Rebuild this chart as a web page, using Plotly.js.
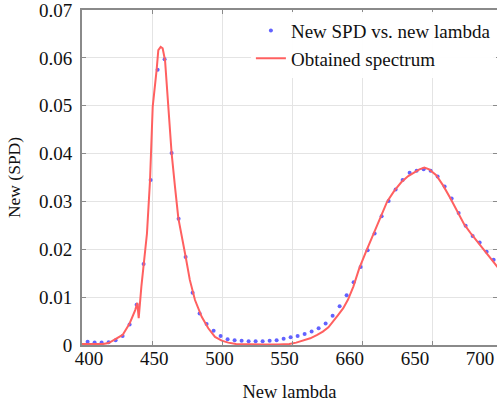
<!DOCTYPE html>
<html>
<head>
<meta charset="utf-8">
<script src="https://cdn.plot.ly/plotly-3.0.1.min.js"></script>
<style>html,body{margin:0;padding:0;background:#fff;}#chart{width:497px;height:402px;}</style>
</head>
<body>
<div id="chart"></div>
<script>
// Measured SPD samples (blue dots)
const dotLambda = [404,409,414,419,424,429,434,439,444,449,454,459,464,469,474,479,484,489,494,499,504,509,514,519,524,529,534,539,544,549,554,559,564,569,574,579,584,589,594,599,604,609,614,619,624,629,634,639,644,649,654,659,664,669,674,679,684,689,694,699];
const dotSPD = [0.0007,0.0005,0.0005,0.0006,0.0010,0.0019,0.0043,0.0084,0.0169,0.0345,0.0575,0.0597,0.0401,0.0264,0.0184,0.0109,0.0066,0.0044,0.0030,0.0019,0.0012,0.0010,0.0009,0.0008,0.0008,0.0008,0.0009,0.0010,0.0013,0.0016,0.0019,0.0023,0.0028,0.0035,0.0045,0.0061,0.0081,0.0104,0.0131,0.0163,0.0198,0.0233,0.0269,0.0301,0.0325,0.0345,0.0360,0.0364,0.0367,0.0364,0.0352,0.0331,0.0306,0.0276,0.0249,0.0228,0.0214,0.0195,0.0178,0.0162];

// Obtained spectrum (red line)
const specLambda = [400,405,410,415,419,424,429,434,438,439.5,440.5,442.4,444,446.4,448.6,449.8,450.5,453.3,454.5,456.2,457.6,459.3,461.7,464,466.4,468.8,474,477,480.7,485.5,490.2,495,499.8,504.5,510,520,530,540,548,553,558,563,568,572,576,579.5,583,586.6,590,593.8,598,603,608,613,618,623,628,633,638,641,644.5,648,653,658,663,668,673,678,683,688,693,697];
const specSPD = [0.0002,0.0002,0.0002,0.0002,0.0004,0.0012,0.0021,0.0045,0.0073,0.0088,0.0056,0.0122,0.0169,0.0233,0.0345,0.0432,0.0498,0.0575,0.0616,0.0623,0.0620,0.0595,0.0498,0.0401,0.0331,0.0265,0.0185,0.0136,0.0094,0.0059,0.0035,0.0017,0.0009,0.0005,0.0002,0.0001,0.0001,0.0001,0.0002,0.0005,0.0009,0.0014,0.0021,0.0028,0.0037,0.0049,0.0063,0.0077,0.0095,0.0122,0.0160,0.0196,0.0232,0.0268,0.0300,0.0322,0.0340,0.0353,0.0362,0.0367,0.0371,0.0367,0.0355,0.0333,0.0307,0.0279,0.0252,0.0232,0.0213,0.0195,0.0177,0.0162];

// Axis ticks (labels as printed in the original)
const xTickVals = [400,450,500,550,600,650,700];
const xTickText = ["400","450","500","550","660","650","700"];
const yTickVals = [0,0.01,0.02,0.03,0.04,0.05,0.06,0.07];
const yTickText = ["0","0.01","0.02","0.03","0.04","0.05","0.06","0.07"];

const FONT = "Liberation Serif, Times New Roman, serif";

const traces = [
  {x: dotLambda, y: dotSPD, type: 'scatter', mode: 'markers', name: 'New SPD vs. new lambda',
   marker: {color: 'rgba(70,70,255,0.85)', size: 4, symbol: 'circle'}},
  {x: specLambda, y: specSPD, type: 'scatter', mode: 'lines', name: 'Obtained spectrum',
   line: {color: '#ff6060', width: 2}},
  {x: [], y: [], xaxis: 'x2', type: 'scatter', mode: 'markers', showlegend: false, hoverinfo: 'skip'}
];

const layout = {
  width: 497, height: 402,
  margin: {l: 82, r: 0, t: 10, b: 57},
  paper_bgcolor: '#ffffff', plot_bgcolor: '#ffffff',
  font: {family: FONT, size: 19, color: '#111'},
  showlegend: true,
  legend: {x: 0.407, y: 0.995, xanchor: 'left', yanchor: 'top', bgcolor: 'rgba(255,255,255,0.95)',
           borderwidth: 0, font: {family: FONT, size: 19, color: '#111'}, tracegroupgap: 0},
  xaxis: {range: [400, 696.4], tickvals: xTickVals.slice(1, 6), showticklabels: false,
          showgrid: true, gridcolor: '#e4e4e4', gridwidth: 1, zeroline: false,
          showline: true, linecolor: '#8a8a8a', linewidth: 2, mirror: 'ticks',
          ticks: 'inside', ticklen: 4, tickcolor: '#8a8a8a'},
  xaxis2: {overlaying: 'x', anchor: 'y', side: 'bottom', range: [394.6, 713],
           tickvals: xTickVals, ticktext: xTickText, showgrid: false, zeroline: false,
           showline: false, ticks: '', ticklabeloverflow: 'allow',
           tickfont: {family: FONT, size: 19, color: '#111'},
           title: {text: 'New lambda', font: {family: FONT, size: 18.5, color: '#111'}, standoff: 18}},
  yaxis: {range: [0, 0.07], tickvals: yTickVals, ticktext: yTickText,
          showgrid: true, gridcolor: '#e4e4e4', gridwidth: 1, zeroline: false,
          showline: true, linecolor: '#8a8a8a', linewidth: 2, mirror: 'ticks',
          ticks: 'inside', ticklen: 4, tickcolor: '#8a8a8a', ticklabeloverflow: 'allow',
          tickfont: {family: FONT, size: 19, color: '#111'}, ticklabelstandoff: 4,
          title: {text: 'New (SPD)', font: {family: FONT, size: 17.5, color: '#111'}, standoff: 14}}
};

Plotly.newPlot('chart', traces, layout, {displayModeBar: false, staticPlot: true});
</script>
</body>
</html>
